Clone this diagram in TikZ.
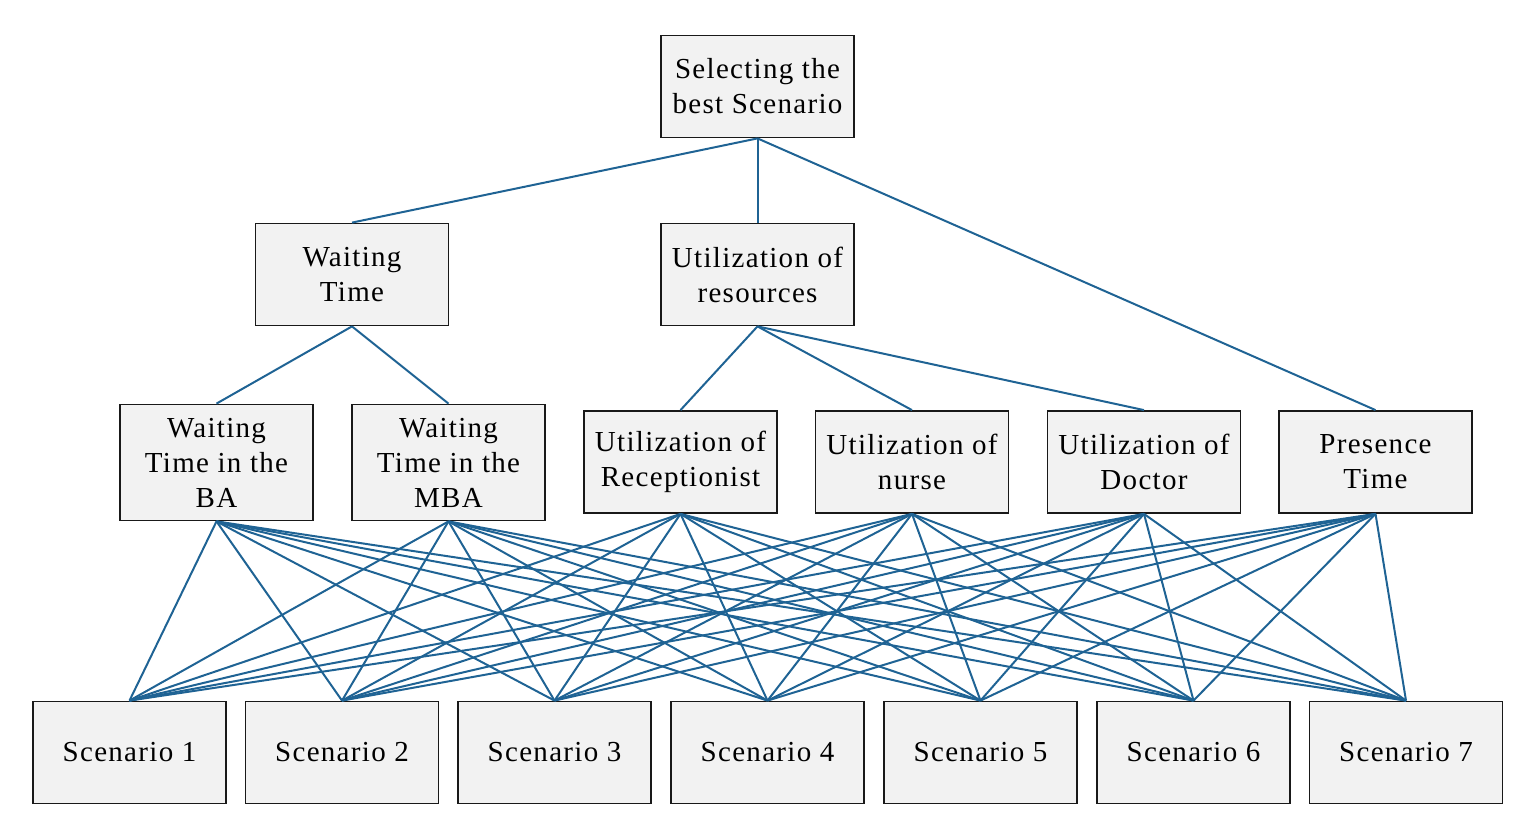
\documentclass[tikz,border=0pt]{standalone}
\usepackage{fontspec}
\setmainfont{Liberation Serif}[LetterSpace=4.5]
\definecolor{boxgray}{RGB}{242,242,242}
\definecolor{linkblue}{RGB}{31,99,148}
\begin{document}
\begin{tikzpicture}[x=1pt,y=-1pt,
  box/.style={draw=black!90, fill=boxgray, line width=1.8pt, minimum width=193pt,
    minimum height=102pt, inner sep=0pt, align=center,
    font=\fontsize{29}{35}\selectfont},
  tallbox/.style={box, minimum height=116pt},
  link/.style={draw=linkblue, line width=2pt}]
\useasboundingbox (0,0) rectangle (1528,818);
\node[box] (top) at (757.5,86.5) {Selecting the\\best Scenario};
\node[box] (wt) at (352,274.5) {Waiting\\Time};
\node[box] (ur) at (757.5,274.5) {Utilization of\\resources};
\node[tallbox] (ba) at (216.5,462.5) {Waiting\\Time in the\\BA};
\node[tallbox] (mba) at (448.5,462.5) {Waiting\\Time in the\\MBA};
\node[box] (rec) at (680.5,462) {Utilization of\\Receptionist};
\node[box] (nur) at (912,462) {Utilization of\\nurse};
\node[box] (doc) at (1144,462) {Utilization of\\Doctor};
\node[box] (pt) at (1375.5,462) {Presence\\Time};
\foreach \i/\x in {1/129.5,2/342,3/554.5,4/767.5,5/980.5,6/1193.5,7/1406}
  \node[box] (s\i) at (\x,752.5) {Scenario \i};
\draw[link] (top.south) -- (wt.north);
\draw[link] (top.south) -- (ur.north);
\draw[link] (top.south) -- (pt.north);
\draw[link] (wt.south) -- (ba.north);
\draw[link] (wt.south) -- (mba.north);
\draw[link] (ur.south) -- (rec.north);
\draw[link] (ur.south) -- (nur.north);
\draw[link] (ur.south) -- (doc.north);
\foreach \c in {ba,mba,rec,nur,doc,pt}
  \foreach \s in {1,...,7}
    \draw[link] (\c.south) -- (s\s.north);
\end{tikzpicture}
\end{document}
